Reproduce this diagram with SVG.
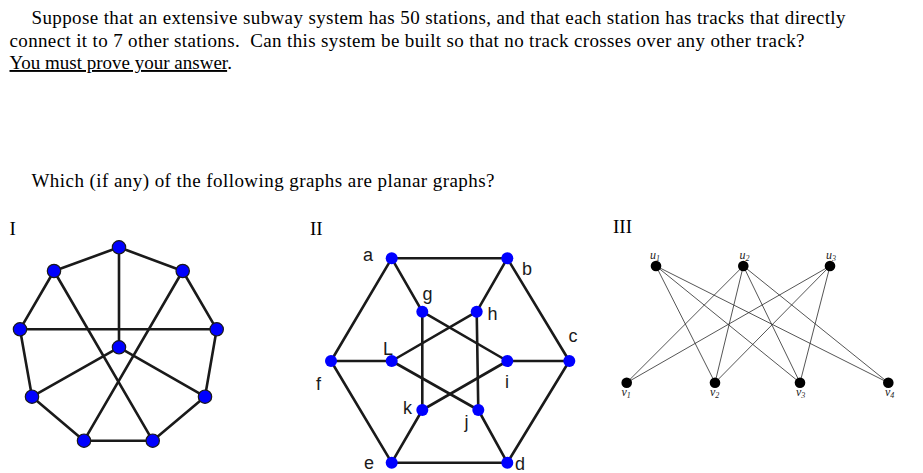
<svg xmlns="http://www.w3.org/2000/svg" width="923" height="473" viewBox="0 0 923 473">
<style>
.t{font-family:"Liberation Serif","Times New Roman",serif;font-size:19px;fill:#000}
.lbl{font-family:"Liberation Sans",Arial,sans-serif;font-size:18px;fill:#1a1a1a;text-anchor:middle}
.sub{font-family:"Liberation Serif","Times New Roman",serif;font-style:italic;font-size:12px;fill:#222}
.e1{stroke:#1a1a1a;stroke-width:2.6;fill:none;stroke-linecap:round}
.e3{stroke:#2a2a2a;stroke-width:0.8;fill:none}
.n1{fill:#0000ff;stroke:#1a1a1a;stroke-width:1.2}
.n2{fill:#0000ff}
.n3{fill:#000}
</style>
<rect width="923" height="473" fill="#fff"/>
<g id="question">
<text class="t" x="31.5" y="24" textLength="814" lengthAdjust="spacing">Suppose that an extensive subway system has 50 stations, and that each station has tracks that directly</text>
<text class="t" x="9.5" y="46.5" textLength="795" lengthAdjust="spacing" xml:space="preserve">connect it to 7 other stations.  Can this system be built so that no track crosses over any other track?</text>
<text class="t" x="9.5" y="69"><tspan text-decoration="underline">You must prove your answer</tspan>.</text>
<text class="t" x="31.5" y="186.5" textLength="463" lengthAdjust="spacing">Which (if any) of the following graphs are planar graphs?</text>
<text class="t" x="9.5" y="235">I</text>
<text class="t" x="310" y="235">II</text>
<text class="t" x="613" y="233">III</text>
</g>
<g id="graph-I">
<g id="connectors-I">
<line class="e1" x1="119" y1="247.3" x2="54" y2="271"/>
<line class="e1" x1="119" y1="247.3" x2="182.7" y2="271"/>
<line class="e1" x1="119" y1="247.3" x2="119" y2="347.3"/>
<line class="e1" x1="54" y1="271" x2="20" y2="329.3"/>
<line class="e1" x1="182.7" y1="271" x2="216.7" y2="329.3"/>
<line class="e1" x1="20" y1="329.3" x2="216.7" y2="329.3"/>
<line class="e1" x1="54" y1="271" x2="152.7" y2="440.7"/>
<line class="e1" x1="182.7" y1="271" x2="84" y2="440.7"/>
<line class="e1" x1="119" y1="347.3" x2="32" y2="396.7"/>
<line class="e1" x1="119" y1="347.3" x2="205" y2="396.7"/>
<line class="e1" x1="20" y1="329.3" x2="32" y2="396.7"/>
<line class="e1" x1="216.7" y1="329.3" x2="205" y2="396.7"/>
<line class="e1" x1="32" y1="396.7" x2="84" y2="440.7"/>
<line class="e1" x1="205" y1="396.7" x2="152.7" y2="440.7"/>
<line class="e1" x1="84" y1="440.7" x2="152.7" y2="440.7"/>
</g>
<g id="I-n1"><circle class="n1" cx="119" cy="247.3" r="6.7"/></g>
<g id="I-n2"><circle class="n1" cx="54" cy="271" r="6.7"/></g>
<g id="I-n3"><circle class="n1" cx="182.7" cy="271" r="6.7"/></g>
<g id="I-n4"><circle class="n1" cx="20" cy="329.3" r="6.7"/></g>
<g id="I-n5"><circle class="n1" cx="216.7" cy="329.3" r="6.7"/></g>
<g id="I-n6"><circle class="n1" cx="119" cy="347.3" r="6.7"/></g>
<g id="I-n7"><circle class="n1" cx="32" cy="396.7" r="6.7"/></g>
<g id="I-n8"><circle class="n1" cx="205" cy="396.7" r="6.7"/></g>
<g id="I-n9"><circle class="n1" cx="84" cy="440.7" r="6.7"/></g>
<g id="I-n10"><circle class="n1" cx="152.7" cy="440.7" r="6.7"/></g>
</g>
<g id="graph-II">
<g id="connectors-II">
<line class="e1" x1="391.7" y1="258.3" x2="507.3" y2="258.3"/>
<line class="e1" x1="507.3" y1="258.3" x2="569.3" y2="361"/>
<line class="e1" x1="569.3" y1="361" x2="507.3" y2="462.7"/>
<line class="e1" x1="507.3" y1="462.7" x2="391.7" y2="462.7"/>
<line class="e1" x1="391.7" y1="462.7" x2="331" y2="361"/>
<line class="e1" x1="331" y1="361" x2="391.7" y2="258.3"/>
<line class="e1" x1="391.7" y1="258.3" x2="422.3" y2="311.7"/>
<line class="e1" x1="507.3" y1="258.3" x2="476.7" y2="311.7"/>
<line class="e1" x1="569.3" y1="361" x2="507.3" y2="361"/>
<line class="e1" x1="507.3" y1="462.7" x2="478.3" y2="410"/>
<line class="e1" x1="391.7" y1="462.7" x2="422.3" y2="410"/>
<line class="e1" x1="331" y1="361" x2="391.7" y2="361"/>
<line class="e1" x1="422.3" y1="311.7" x2="422.3" y2="410"/>
<line class="e1" x1="476.7" y1="311.7" x2="478.3" y2="410"/>
<line class="e1" x1="422.3" y1="311.7" x2="507.3" y2="361"/>
<line class="e1" x1="476.7" y1="311.7" x2="391.7" y2="361"/>
<line class="e1" x1="391.7" y1="361" x2="478.3" y2="410"/>
<line class="e1" x1="422.3" y1="410" x2="507.3" y2="361"/>
</g>
<g id="II-a"><circle class="n2" cx="391.7" cy="258.3" r="6"/><text class="lbl" x="368" y="260.5">a</text></g>
<g id="II-b"><circle class="n2" cx="507.3" cy="258.3" r="6"/><text class="lbl" x="527" y="275">b</text></g>
<g id="II-c"><circle class="n2" cx="569.3" cy="361" r="6"/><text class="lbl" x="573" y="341.5">c</text></g>
<g id="II-d"><circle class="n2" cx="507.3" cy="462.7" r="6"/><text class="lbl" x="520" y="469.5">d</text></g>
<g id="II-e"><circle class="n2" cx="391.7" cy="462.7" r="6"/><text class="lbl" x="369" y="468.5">e</text></g>
<g id="II-f"><circle class="n2" cx="331" cy="361" r="6"/><text class="lbl" x="318.5" y="390">f</text></g>
<g id="II-g"><circle class="n2" cx="422.3" cy="311.7" r="6"/><text class="lbl" x="427.5" y="300">g</text></g>
<g id="II-h"><circle class="n2" cx="476.7" cy="311.7" r="6"/><text class="lbl" x="492.5" y="320">h</text></g>
<g id="II-i"><circle class="n2" cx="507.3" cy="361" r="6"/><text class="lbl" x="507" y="388">i</text></g>
<g id="II-j"><circle class="n2" cx="478.3" cy="410" r="6"/><text class="lbl" x="466.5" y="428">j</text></g>
<g id="II-k"><circle class="n2" cx="422.3" cy="410" r="6"/><text class="lbl" x="407.5" y="413.5">k</text></g>
<g id="II-L"><circle class="n2" cx="391.7" cy="361" r="6"/><text class="lbl" x="388" y="355">L</text></g>
</g>
<g id="graph-III">
<g id="connectors-III">
<line class="e3" x1="656" y1="266" x2="715" y2="382.7"/>
<line class="e3" x1="656" y1="266" x2="800" y2="382.7"/>
<line class="e3" x1="656" y1="266" x2="888.3" y2="382.7"/>
<line class="e3" x1="743.3" y1="266" x2="626.7" y2="382.7"/>
<line class="e3" x1="743.3" y1="266" x2="715" y2="382.7"/>
<line class="e3" x1="743.3" y1="266" x2="800" y2="382.7"/>
<line class="e3" x1="743.3" y1="266" x2="888.3" y2="382.7"/>
<line class="e3" x1="830" y1="266" x2="626.7" y2="382.7"/>
<line class="e3" x1="830" y1="266" x2="715" y2="382.7"/>
<line class="e3" x1="830" y1="266" x2="800" y2="382.7"/>
</g>
<g id="III-u1"><circle class="n3" cx="656" cy="266" r="5.3"/><text class="sub" x="650" y="259">u<tspan font-size="8" dy="2">1</tspan></text></g>
<g id="III-u2"><circle class="n3" cx="743.3" cy="266" r="5.3"/><text class="sub" x="739.5" y="259">u<tspan font-size="8" dy="2">2</tspan></text></g>
<g id="III-u3"><circle class="n3" cx="830" cy="266" r="5.3"/><text class="sub" x="826" y="259">u<tspan font-size="8" dy="2">3</tspan></text></g>
<g id="III-v1"><circle class="n3" cx="626.7" cy="382.7" r="5.3"/><text class="sub" x="621.5" y="396">v<tspan font-size="8" dy="2">1</tspan></text></g>
<g id="III-v2"><circle class="n3" cx="715" cy="382.7" r="5.3"/><text class="sub" x="710" y="396">v<tspan font-size="8" dy="2">2</tspan></text></g>
<g id="III-v3"><circle class="n3" cx="800" cy="382.7" r="5.3"/><text class="sub" x="796" y="396">v<tspan font-size="8" dy="2">3</tspan></text></g>
<g id="III-v4"><circle class="n3" cx="888.3" cy="382.7" r="5.3"/><text class="sub" x="885" y="396">v<tspan font-size="8" dy="2">4</tspan></text></g>
</g>
</svg>
